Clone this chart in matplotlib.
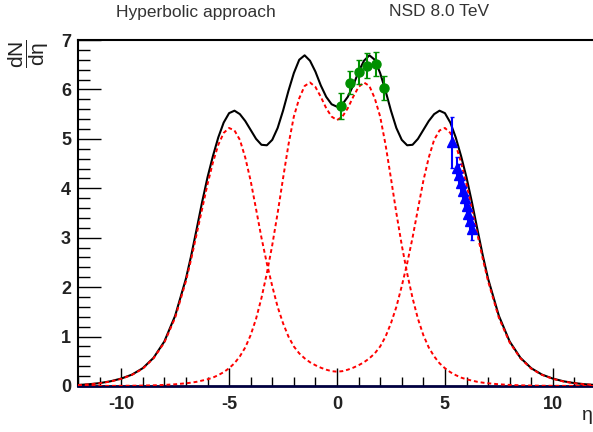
"""
dN/deta at 8 TeV (NSD) -- hyperbolic approach fit with components
"""

import matplotlib
matplotlib.use('Agg')
import matplotlib.pyplot as plt
from matplotlib.ticker import MultipleLocator

plt.rcParams['font.family'] = ['Liberation Sans', 'DejaVu Sans']
plt.rcParams['mathtext.fontset'] = 'custom'
plt.rcParams['mathtext.rm'] = 'Liberation Sans'
plt.rcParams['mathtext.it'] = 'Liberation Sans:italic'
plt.rcParams['axes.unicode_minus'] = False

# ── Curves ────────────────────────────────────────────────────
eta = [-12, -11.5, -11, -10.5, -10, -9.5, -9, -8.5, -8, -7.5,
       -7, -6.75, -6.5, -6.25, -6, -5.75, -5.5, -5.25, -5, -4.75,
       -4.5, -4.25, -4, -3.75, -3.5, -3.25, -3, -2.75, -2.5, -2.25,
       -2, -1.75, -1.5, -1.25, -1, -0.75, -0.5, -0.25,
       0,
       0.25, 0.5, 0.75, 1, 1.25, 1.5, 1.75, 2, 2.25, 2.5,
       2.75, 3, 3.25, 3.5, 3.75, 4, 4.25, 4.5, 4.75, 5,
       5.25, 5.5, 5.75, 6, 6.25, 6.5, 6.75, 7,
       7.5, 8, 8.5, 9, 9.5, 10, 10.5, 11, 11.5, 12]

# total fit (black)
dn_total = [0.02, 0.035, 0.058, 0.095, 0.15, 0.23, 0.36, 0.57, 0.90, 1.42,
            2.17, 2.65, 3.18, 3.72, 4.22, 4.65, 5.03, 5.33, 5.52, 5.57,
            5.50, 5.36, 5.18, 5.00, 4.88, 4.87, 4.98, 5.22, 5.57, 5.97,
            6.33, 6.60, 6.69, 6.58, 6.36, 6.08, 5.85, 5.70,
            5.65,
            5.70, 5.85, 6.08, 6.36, 6.58, 6.69, 6.60, 6.33, 5.97, 5.57,
            5.22, 4.98, 4.87, 4.88, 5.00, 5.18, 5.36, 5.50, 5.57, 5.52,
            5.33, 5.03, 4.65, 4.22, 3.72, 3.18, 2.65, 2.17,
            1.42, 0.90, 0.57, 0.36, 0.23, 0.15, 0.095, 0.058, 0.035, 0.02]

# forward/backward components (red dashed)
dn_side = [0.019, 0.033, 0.055, 0.09, 0.145, 0.225, 0.35, 0.56, 0.88, 1.38,
           2.12, 2.58, 3.08, 3.58, 4.08, 4.52, 4.88, 5.12, 5.22, 5.17,
           4.98, 4.62, 4.15, 3.58, 3.00, 2.48, 2.02, 1.60, 1.27, 1.00,
           0.80, 0.66, 0.56, 0.48, 0.42, 0.37, 0.33, 0.30,
           0.29,
           0.30, 0.33, 0.37, 0.42, 0.48, 0.56, 0.66, 0.80, 1.00, 1.27,
           1.60, 2.02, 2.48, 3.00, 3.58, 4.15, 4.62, 4.98, 5.17, 5.22,
           5.12, 4.88, 4.52, 4.08, 3.58, 3.08, 2.58, 2.12,
           1.38, 0.88, 0.56, 0.35, 0.225, 0.145, 0.09, 0.055, 0.033, 0.019]

# central component (red dashed)
dn_mid = [0.001, 0.001, 0.002, 0.003, 0.004, 0.006, 0.009, 0.014, 0.022, 0.035,
          0.055, 0.068, 0.085, 0.11, 0.135, 0.17, 0.22, 0.28, 0.36, 0.46,
          0.60, 0.78, 1.03, 1.36, 1.78, 2.28, 2.85, 3.50, 4.20, 4.88,
          5.45, 5.82, 6.07, 6.14, 6.05, 5.85, 5.62, 5.45,
          5.38,
          5.45, 5.62, 5.85, 6.05, 6.14, 6.07, 5.82, 5.45, 4.88, 4.20,
          3.50, 2.85, 2.28, 1.78, 1.36, 1.03, 0.78, 0.60, 0.46, 0.36,
          0.28, 0.22, 0.17, 0.135, 0.11, 0.085, 0.068, 0.055,
          0.035, 0.022, 0.014, 0.009, 0.006, 0.004, 0.003, 0.002, 0.001, 0.001]

# ── Data points ───────────────────────────────────────────────
eta_central = [0.19, 0.58, 1.0, 1.39, 1.79, 2.19]
dn_central  = [5.67, 6.14, 6.35, 6.48, 6.51, 6.03]
err_central = [0.26, 0.24, 0.24, 0.25, 0.24, 0.25]

eta_fwd = [5.33, 5.55, 5.64, 5.73, 5.82, 5.91, 6.00, 6.09, 6.18, 6.27]
dn_fwd  = [4.93, 4.42, 4.27, 4.10, 3.94, 3.80, 3.64, 3.48, 3.33, 3.18]
err_fwd = [0.52, 0.22, 0.22, 0.22, 0.22, 0.22, 0.22, 0.22, 0.22, 0.22]

# ── Figure ────────────────────────────────────────────────────
W, H = 593, 432
fig = plt.figure(figsize=(W / 100, H / 100), dpi=100)
ax = fig.add_axes([78 / W, 46 / H, 518 / W, 346 / H])

ax.plot(eta, dn_total, color='black', lw=1.5, zorder=2)
ax.plot(eta, dn_side, color='red', lw=1.4, ls=(0, (2.0, 1.5)), zorder=3)
ax.plot(eta, dn_mid, color='red', lw=1.4, ls=(0, (2.0, 1.5)), zorder=3)

ax.errorbar(eta_central, dn_central, yerr=err_central, fmt='o',
            color='#009000', ms=6.5, elinewidth=1.5, capsize=2, zorder=4)
ax.errorbar(eta_fwd, dn_fwd, yerr=err_fwd, fmt='^',
            color='#0000ff', ms=7.5, elinewidth=1.5, capsize=1.5, zorder=4)

ax.set_xlim(-12, 12)
ax.set_ylim(0, 7)
ax.xaxis.set_major_locator(MultipleLocator(5))
ax.xaxis.set_minor_locator(MultipleLocator(1))
ax.yaxis.set_major_locator(MultipleLocator(1))
ax.yaxis.set_minor_locator(MultipleLocator(0.2))

ax.tick_params(which='both', direction='in', top=False, right=False,
               labelsize=13, width=1, color='black', labelcolor='#222222')
ax.tick_params(axis='x', which='major', length=13, pad=7)
ax.tick_params(axis='x', which='minor', length=6.5)
ax.tick_params(axis='y', which='major', length=16.5, pad=5)
ax.tick_params(axis='y', which='minor', length=8.5)
for lbl in ax.get_xticklabels() + ax.get_yticklabels():
    lbl.set_fontweight('bold')

ax.spines['right'].set_visible(False)
ax.spines['top'].set_linewidth(1.5)
ax.spines['left'].set_linewidth(1.5)
ax.spines['bottom'].set_linewidth(2)
ax.spines['bottom'].set_color('#000040')

fig.text(196 / W, 1 - 12 / H, 'Hyperbolic approach', ha='center', va='center',
         fontsize=12.5, color='#333333')
fig.text(439 / W, 1 - 12 / H, 'NSD 8.0 TeV', ha='center', va='center',
         fontsize=12.5, color='#333333')
fig.text(29 / W, 1 - 54 / H, r'$\dfrac{\mathrm{dN}}{\mathrm{dη}}$',
         rotation=90, ha='center', va='center', fontsize=15, color='#222222')
fig.text(587 / W, 1 - 415 / H, 'η', ha='center', va='center',
         fontsize=14, color='#222222')

fig.savefig('out.png', dpi=100)
plt.close()
